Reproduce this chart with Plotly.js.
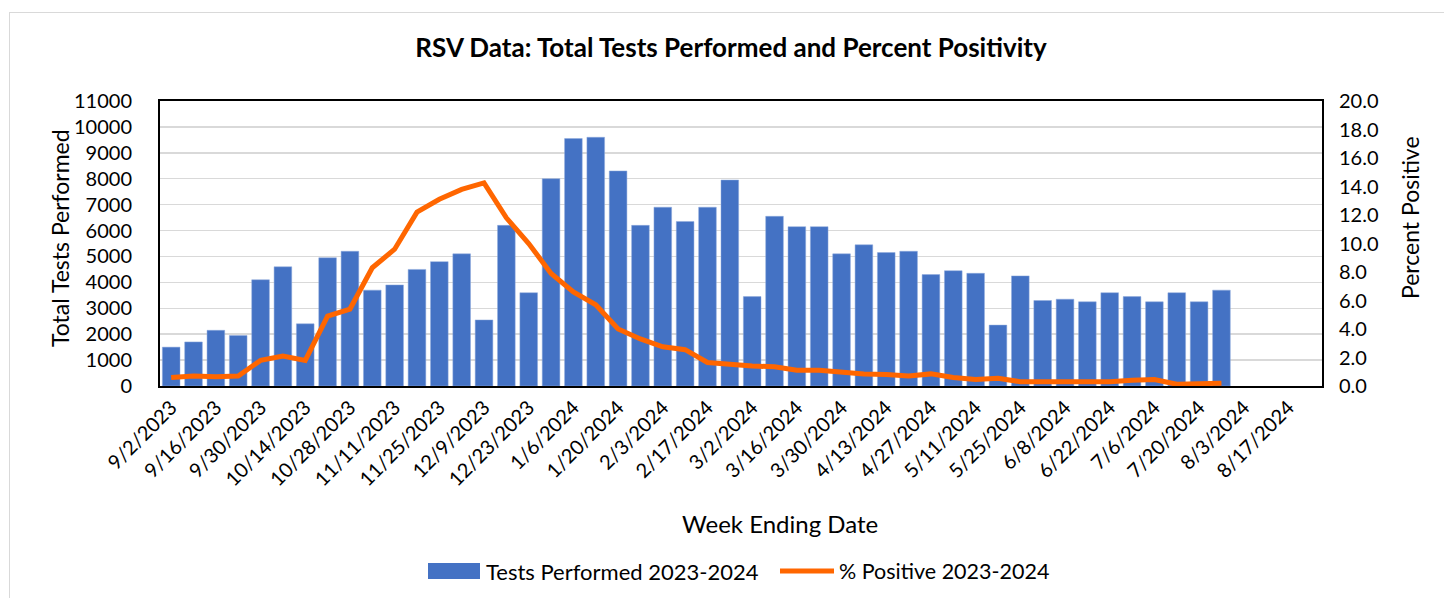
<!DOCTYPE html>
<html>
<head>
<meta charset="utf-8">
<script src="https://cdn.plot.ly/plotly-3.0.1.min.js"></script>
<style>
  html, body { margin:0; padding:0; background:#fff; }
  #wrap { position:relative; width:1444px; height:598px; overflow:hidden; }
  #frame { position:absolute; left:9px; top:12px; width:1500px; height:700px; border-left:1px solid #d9d9d9; border-top:1px solid #d9d9d9; pointer-events:none; }
  #chart { position:absolute; left:0; top:0; width:1444px; height:598px; }
</style>
</head>
<body>
<div id="wrap">
  <div id="chart"></div>
  <div id="frame"></div>
</div>
<script>
const weeks = [
  "9/2/2023","9/9/2023","9/16/2023","9/23/2023","9/30/2023","10/7/2023","10/14/2023","10/21/2023","10/28/2023",
  "11/4/2023","11/11/2023","11/18/2023","11/25/2023","12/2/2023","12/9/2023","12/16/2023","12/23/2023","12/30/2023",
  "1/6/2024","1/13/2024","1/20/2024","1/27/2024","2/3/2024","2/10/2024","2/17/2024","2/24/2024",
  "3/2/2024","3/9/2024","3/16/2024","3/23/2024","3/30/2024","4/6/2024","4/13/2024","4/20/2024","4/27/2024",
  "5/4/2024","5/11/2024","5/18/2024","5/25/2024","6/1/2024","6/8/2024","6/15/2024","6/22/2024","6/29/2024",
  "7/6/2024","7/13/2024","7/20/2024","7/27/2024","8/3/2024","8/10/2024","8/17/2024","8/24/2024"
];
const testsPerformed = [
  1500, 1700, 2150, 1950, 4100, 4600, 2400, 4950, 5200, 3700, 3900, 4500, 4800, 5100, 2550, 6200,
  3600, 8000, 9550, 9600, 8300, 6200, 6900, 6350, 6900, 7950, 3450, 6550, 6150, 6150, 5100, 5450,
  5150, 5200, 4300, 4450, 4350, 2350, 4250, 3300, 3350, 3250, 3600, 3450, 3250, 3600, 3250, 3700,
  null, null, null, null
];
const percentPositive = [
  0.6, 0.7, 0.65, 0.7, 1.8, 2.1, 1.8, 4.9, 5.4, 8.3, 9.6, 12.2, 13.1, 13.8, 14.25, 11.8,
  10.0, 7.9, 6.6, 5.7, 4.0, 3.3, 2.75, 2.55, 1.65, 1.5, 1.4, 1.35, 1.1, 1.1, 0.95, 0.85,
  0.8, 0.7, 0.85, 0.6, 0.45, 0.55, 0.3, 0.3, 0.3, 0.3, 0.3, 0.4, 0.45, 0.12, 0.16, 0.2,
  null, null, null, null
];
const tickWeeks = weeks.filter((w, i) => i % 2 === 0);
const legendLabels = ["Tests Performed 2023-2024", "% Positive 2023-2024"];

const FONT = "Lato, 'Open Sans', sans-serif";
const BLUE = "#4472C4";
const ORANGE = "#FF6600";

// plot area pixels: x 160..1322, y 101..386
const PL = 160, PR = 1322, PT = 101, PB = 386;
const px = x => (x - PL) / (PR - PL);
const py = y => (PB - y) / (PB - PT);

const traces = [
  {
    type: "bar", x: weeks, y: testsPerformed, name: legendLabels[0],
    marker: { color: BLUE, line: { color: "#8faadc", width: 0.5 } },
    yaxis: "y", showlegend: false, hoverinfo: "x+y"
  },
  {
    type: "scatter", mode: "lines", x: weeks, y: percentPositive, name: legendLabels[1],
    line: { color: ORANGE, width: 5 }, yaxis: "y2", showlegend: false, connectgaps: false
  }
];

const layout = {
  width: 1444, height: 598,
  margin: { l: PL, r: 1444 - PR, t: PT, b: 598 - PB, pad: 0 },
  paper_bgcolor: "rgba(0,0,0,0)", plot_bgcolor: "#fff",
  font: { family: FONT, size: 20, color: "#000" },
  bargap: 0.21,
  title: {
    text: "<b>RSV Data: Total Tests Performed and Percent Positivity</b>",
    font: { family: FONT, size: 26, color: "#000" },
    x: 731 / 1444, xanchor: "center", xref: "container",
    y: 1 - 48 / 598, yanchor: "middle", yref: "container"
  },
  xaxis: {
    type: "category", categoryorder: "array", categoryarray: weeks,
    tickmode: "array", tickvals: tickWeeks, ticktext: tickWeeks,
    tickangle: -45, tickfont: { family: FONT, size: 20, color: "#000" },
    showgrid: false, showline: true, linecolor: "#000", linewidth: 2, mirror: true,
    ticks: "", range: [-0.5, weeks.length - 0.5], fixedrange: true
  },
  yaxis: {
    range: [0, 11000], dtick: 1000, tick0: 0, tickformat: "d",
    tickfont: { family: FONT, size: 20, color: "#000" },
    showgrid: true, gridcolor: "#d9d9d9", gridwidth: 1.5,
    showline: true, linecolor: "#000", linewidth: 2, mirror: true,
    ticks: "", ticklabelstandoff: 22, zeroline: false, fixedrange: true
  },
  yaxis2: {
    overlaying: "y", side: "right", range: [0, 20], dtick: 2, tick0: 0,
    tickformat: ".1f", tickfont: { family: FONT, size: 20, color: "#000" },
    showgrid: false, zeroline: false, showline: false, ticks: "",
    ticklabelstandoff: 16, fixedrange: true
  },
  annotations: [
    { text: "Total Tests Performed", xref: "paper", yref: "paper", x: px(60), y: py(238),
      xanchor: "center", yanchor: "middle", textangle: -90, showarrow: false,
      font: { family: FONT, size: 23, color: "#000" } },
    { text: "Percent Positive", xref: "paper", yref: "paper", x: px(1410), y: py(218),
      xanchor: "center", yanchor: "middle", textangle: -90, showarrow: false,
      font: { family: FONT, size: 23, color: "#000" } },
    { text: "Week Ending Date", xref: "paper", yref: "paper", x: px(780), y: py(523),
      xanchor: "center", yanchor: "middle", showarrow: false,
      font: { family: FONT, size: 24, color: "#000" } },
    { text: legendLabels[0], xref: "paper", yref: "paper", x: px(484), y: py(571),
      xanchor: "left", yanchor: "middle", showarrow: false,
      font: { family: FONT, size: 22, color: "#000" } },
    { text: legendLabels[1], xref: "paper", yref: "paper", x: px(837), y: py(571),
      xanchor: "left", yanchor: "middle", showarrow: false,
      font: { family: FONT, size: 21.5, color: "#000" } }
  ],
  shapes: [
    { type: "rect", xref: "paper", yref: "paper", x0: px(428), x1: px(480), y0: py(563), y1: py(579),
      fillcolor: BLUE, line: { width: 0 } },
    { type: "line", xref: "paper", yref: "paper", x0: px(780), x1: px(834), y0: py(571), y1: py(571),
      line: { color: ORANGE, width: 5 } }
  ]
};

Plotly.newPlot("chart", traces, layout, { displayModeBar: false, staticPlot: true });
</script>
</body>
</html>
